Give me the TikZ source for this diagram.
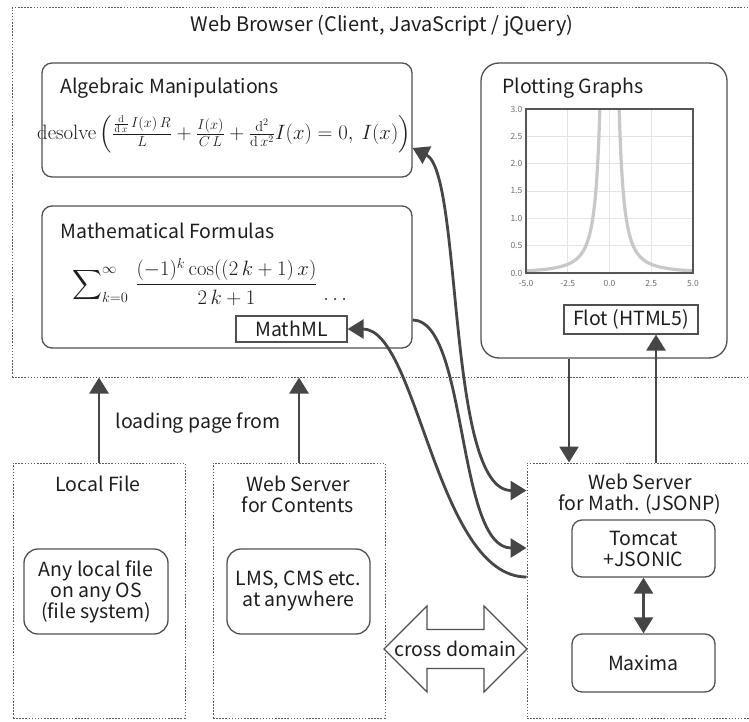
\documentclass[tikz,border=0pt]{standalone}
\usepackage[no-math]{fontspec}
\setmainfont{Noto Sans CJK JP}
\usepackage{amsmath}
\usetikzlibrary{shapes.arrows, arrows.meta, positioning, calc}
\definecolor{textblack}{HTML}{1E1E1E}
\definecolor{linegray}{HTML}{464646}
\definecolor{boxgray}{HTML}{505050}
\definecolor{zonegray}{HTML}{5A5A5A}
\definecolor{gridgray}{HTML}{E4E4E4}
\definecolor{curvegray}{HTML}{C8C8C8}
\definecolor{framegray}{HTML}{555555}
\definecolor{tickgray}{HTML}{707070}

\begin{document}
\begin{tikzpicture}[x=1pt, y=-1pt, text=textblack,
    font=\fontsize{19.5}{21}\selectfont,
    >={Triangle[length=16pt,width=19pt]},
    zone/.style={draw=zonegray, line width=1pt, dash pattern=on 1.5pt off 1.6pt},
    panel/.style={draw=boxgray, line width=1.3pt, rounded corners=10pt, fill=white},
    tag/.style={draw=boxgray, line width=1.2pt, inner sep=3pt},
    conn/.style={draw=linegray, line width=2.8pt},
    ticklab/.style={text=tickgray, font=\fontsize{8.5}{10}\selectfont, inner sep=1pt},
    mathtxt/.style={font=\fontsize{20.5}{24}\selectfont}]
  \useasboundingbox (0,0) rectangle (749,722);

  % browser side
  \node[zone, minimum width=740pt, minimum height=369pt] (browser) at (382,192.5) {};
  \node[font=\fontsize{20}{21}\selectfont] (browsertitle) at (382,26) {Web Browser (Client, JavaScript / jQuery)};

  \node[panel, minimum width=370pt, minimum height=114pt] (alg) at (227,120) {};
  \node[anchor=west] (algtitle) at (57,88) {Algebraic Manipulations};
  \node[mathtxt] (desolve) at (224,134)
    {$\mathrm{desolve}\left(\frac{\frac{\mathrm{d}}{\mathrm{d}\,x}\,I(x)\,R}{L}+\frac{I(x)}{C\,L}+\frac{\mathrm{d}^2}{\mathrm{d}\,x^2}I(x)=0,\ I(x)\right)$};

  \node[panel, minimum width=370pt, minimum height=142pt] (formula) at (227,277) {};
  \node[anchor=west] (formulatitle) at (57,231) {Mathematical Formulas};
  \node[mathtxt, anchor=west, inner sep=0pt] (series) at (72,282)
    {$\displaystyle\sum\nolimits_{k=0}^{\infty}\,\frac{(-1)^k\cos((2\,k+1)\,x)}{2\,k+1}\;\lower10pt\hbox{$\ldots$}$};
  \node[tag, minimum width=111pt, minimum height=26pt] (mathml) at (291.5,329) {MathML};

  \node[panel, rounded corners=18pt, minimum width=246pt, minimum height=295pt] (plot) at (604,210.5) {};
  \node[anchor=west] (plottitle) at (499,88) {Plotting Graphs};
  \node[tag, minimum width=134pt, minimum height=29pt] (flot) at (631,319.5) {Flot (HTML5)};

  % the graph
  \begin{scope}[shift={(609.5,273)}, x=16.7pt, y=54.67pt]
    \foreach \gx in {-2.5,0,2.5}
      \draw[gridgray, line width=0.8pt] (\gx,0) -- (\gx,3);
    \foreach \gy in {0.5,1,...,2.5}
      \draw[gridgray, line width=0.8pt] (-5,\gy) -- (5,\gy);
    \draw[curvegray, line width=3.2pt] plot[domain=0.578:5, samples=80] (\x,{1/(\x*\x)});
    \draw[curvegray, line width=3.2pt] plot[domain=-5:-0.578, samples=80] (\x,{1/(\x*\x)});
    \draw[framegray, line width=2pt] (-5,0) rectangle (5,3);
    \foreach \gy/\lab in {0/0.0,0.5/0.5,1/1.0,1.5/1.5,2/2.0,2.5/2.5,3/3.0}
      \node[ticklab, anchor=east] at (-5.15,\gy) {\lab};
    \foreach \gx/\lab in {-5/-5.0,-2.5/-2.5,0/0.0,2.5/2.5,5/5.0}
      \node[ticklab, anchor=north] at (\gx,-0.12) {\lab};
  \end{scope}

  % sources of the page
  \node[zone, minimum width=172pt, minimum height=255pt] (local) at (99,590.5) {};
  \node (localtitle) at (98,484) {Local File};
  \node[panel, rounded corners=14pt, align=center, minimum width=144pt, minimum height=85pt] (anyfile) at (96,591.5)
    {Any local file\\on any OS\\(file system)};

  \node[zone, minimum width=172pt, minimum height=255pt] (contents) at (299,590.5) {};
  \node[align=center] (contentstitle) at (298,494) {Web Server\\for Contents};
  \node[panel, rounded corners=14pt, align=center, minimum width=143pt, minimum height=85pt] (lms) at (298.5,591.5)
    {LMS, CMS etc.\\at anywhere};

  \draw[conn, ->] (local.north) -- (local.north |- browser.south);
  \draw[conn, ->] (contents.north) -- (contents.north |- browser.south);
  \node (loading) at (198,423) {loading page from};

  % math server
  \node[zone, minimum width=225pt, minimum height=255pt] (mathsrv) at (639.5,590.5) {};
  \node[align=center] (mathsrvtitle) at (640,494) {Web Server\\for Math. (JSONP)};
  \node[panel, align=center, minimum width=143pt, minimum height=57pt] (tomcat) at (643.5,548.5) {Tomcat\\+JSONIC};
  \node[panel, minimum width=143pt, minimum height=58pt] (maxima) at (643.5,663) {Maxima};
  \draw[conn, <->] (tomcat.south) -- (maxima.north);

  \node[double arrow, draw=boxgray, line width=1.3pt, fill=white, double arrow head extend=23.5pt,
        double arrow head indent=0pt, minimum height=143pt, inner ysep=11pt, inner xsep=0pt] (cross) at (455.5,649)
    {\makebox[0pt]{cross domain}};

  % requests and answers
  \draw[conn, ->] ([xshift=-35pt]plot.south) -- ([xshift=-35pt]plot.south |- mathsrv.north);
  \draw[conn, ->] ([xshift=25pt]flot.south |- mathsrv.north) -- ([xshift=25pt]flot.south);
  \draw[conn, <->] ([yshift=-28pt]alg.east) .. controls +(50,25) and +(-80,0) .. ([yshift=100pt]mathsrv.west);
  \draw[conn, ->] ([yshift=-43pt]formula.east) .. controls +(55,0) and +(-70,0) .. ([yshift=42.5pt]mathsrv.west);
  \draw[conn, <-] (mathml.east) .. controls +(70,0) and +(-90,0) .. ([yshift=13.5pt]mathsrv.west);
\end{tikzpicture}
\end{document}
